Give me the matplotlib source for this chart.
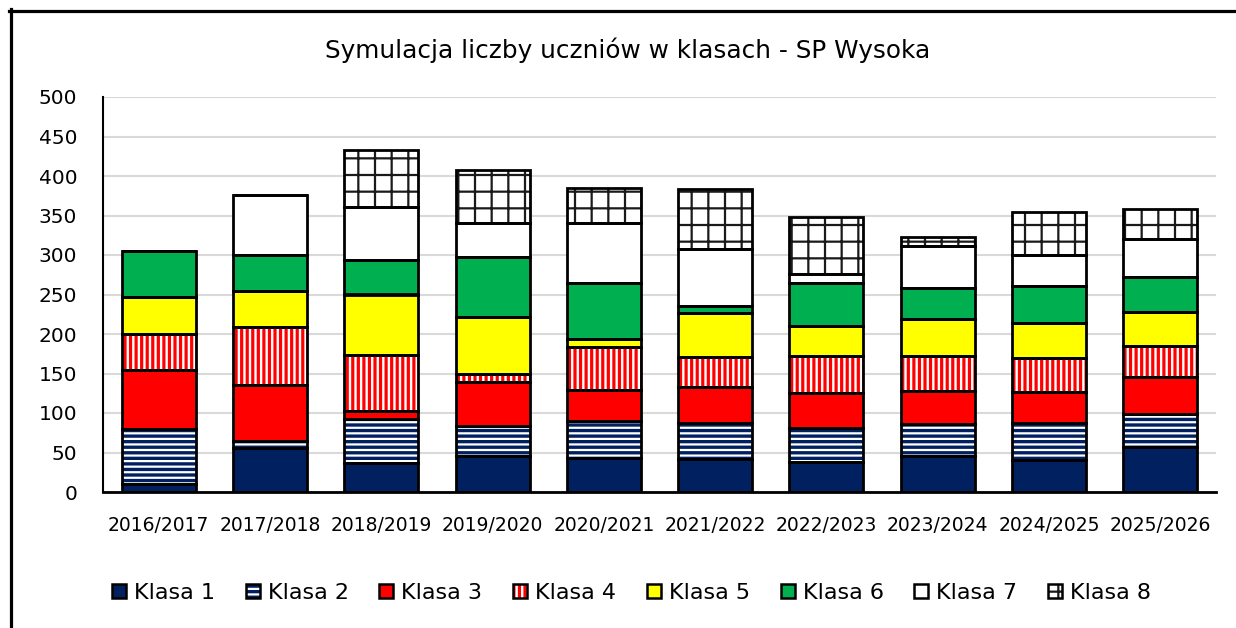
import matplotlib
matplotlib.use('Agg')
import matplotlib.pyplot as plt
import numpy as np
from matplotlib.lines import Line2D
from matplotlib.patches import Rectangle
from matplotlib.legend_handler import HandlerBase

# ---- data ----
years = ['2016/2017', '2017/2018', '2018/2019', '2019/2020', '2020/2021',
         '2021/2022', '2022/2023', '2023/2024', '2024/2025', '2025/2026']
klasa1 = [10, 56, 37, 46, 43, 42, 38, 46, 41, 57]
klasa2 = [70, 8, 55, 38, 47, 45, 43, 40, 46, 42]
klasa3 = [74, 72, 10, 55, 39, 46, 44, 42, 40, 47]
klasa4 = [46, 73, 72, 10, 55, 38, 47, 44, 43, 39]
klasa5 = [47, 45, 76, 72, 10, 55, 38, 47, 44, 43]
klasa6 = [58, 46, 44, 76, 71, 10, 55, 39, 47, 44]
klasa7 = [0, 76, 67, 44, 76, 72, 11, 54, 39, 48]
klasa8 = [0, 0, 72, 67, 44, 76, 72, 11, 55, 38]
series_labels = ['Klasa 1', 'Klasa 2', 'Klasa 3', 'Klasa 4',
                 'Klasa 5', 'Klasa 6', 'Klasa 7', 'Klasa 8']
title = 'Symulacja liczby uczniów w klasach - SP Wysoka'
yticks = list(range(0, 501, 50))

series = [klasa1, klasa2, klasa3, klasa4, klasa5, klasa6, klasa7, klasa8]

NAVY = '#002060'
RED = '#FF0000'
styles = [
    dict(face=NAVY, hcolor=NAVY, hatch=None, hlw=1.0),
    dict(face='white', hcolor=NAVY, hatch='---', hlw=2.4),
    dict(face=RED, hcolor=RED, hatch=None, hlw=1.0),
    dict(face='white', hcolor=RED, hatch='|||', hlw=2.3),
    dict(face='#FFFF00', hcolor='#FFFF00', hatch=None, hlw=1.0),
    dict(face='#00B050', hcolor='#00B050', hatch=None, hlw=1.0),
    dict(face='white', hcolor='white', hatch=None, hlw=1.0),
    dict(face='white', hcolor='#1a1a1a', hatch='+', hlw=1.6),
]

plt.rcParams['font.family'] = ['DejaVu Sans']
plt.rcParams['hatch.linewidth'] = 2.0

W, H = 1236, 628
fig = plt.figure(figsize=(W / 100, H / 100), dpi=100)
fig.patch.set_facecolor('white')

ax = fig.add_axes([103 / W, (H - 492) / H, (1216 - 103) / W, (492 - 97) / H])

x = np.arange(len(years))
bw = 0.665
bottom = np.zeros(len(years))


def set_hlw(p, lw):
    if hasattr(p, 'set_hatch_linewidth'):
        p.set_hatch_linewidth(lw)


for vals, st in zip(series, styles):
    vals = np.array(vals, dtype=float)
    with plt.rc_context({'hatch.linewidth': st['hlw']}):
        bars = ax.bar(x, vals, bw, bottom=bottom, color=st['face'],
                      edgecolor=st['hcolor'], hatch=st['hatch'],
                      linewidth=0, zorder=2)
    for p in bars:
        set_hlw(p, st['hlw'])
    ax.bar(x, vals, bw, bottom=bottom, fill=False, edgecolor='black',
           linewidth=2.0, zorder=3)
    bottom += vals

ax.set_xlim(-0.5, len(years) - 0.5)
ax.set_ylim(0, 500)
ax.set_yticks(yticks)
ax.set_xticks(x)
ax.set_xticklabels(years)
ax.yaxis.grid(True, color='#D9D9D9', linewidth=1.5)
ax.set_axisbelow(True)
ax.tick_params(axis='y', length=0, pad=18.5, labelsize=14.5)
ax.tick_params(axis='x', length=0, pad=17, labelsize=13.5)
for s in ['top', 'right']:
    ax.spines[s].set_visible(False)
ax.spines['left'].set_linewidth(1.5)
ax.spines['bottom'].set_linewidth(2.0)
ax.spines['left'].set_zorder(4)
ax.spines['bottom'].set_zorder(4)

fig.text(628 / W, 1 - 50 / H, title, ha='center', va='center', fontsize=17.8)


class TwoLayerHandler(HandlerBase):
    def __init__(self, st):
        super().__init__()
        self.st = st

    def create_artists(self, legend, orig_handle, xdescent, ydescent,
                       width, height, fontsize, trans):
        s = min(width, height)
        x0 = -xdescent + (width - s) / 2
        y0 = -ydescent + (height - s) / 2
        st = self.st
        with plt.rc_context({'hatch.linewidth': st['hlw']}):
            r1 = Rectangle((x0, y0), s, s, facecolor=st['face'],
                           edgecolor=st['hcolor'], hatch=st['hatch'],
                           linewidth=0, transform=trans)
        set_hlw(r1, st['hlw'])
        r2 = Rectangle((x0, y0), s, s, fill=False, edgecolor='black',
                       linewidth=1.8, transform=trans)
        return [r1, r2]


proxies = [Rectangle((0, 0), 1, 1) for _ in series_labels]
hmap = {p: TwoLayerHandler(st) for p, st in zip(proxies, styles)}
fs_leg = 16
leg = fig.legend(proxies, series_labels, handler_map=hmap, ncol=8,
                 loc='center', bbox_to_anchor=(631.5 / W, 1 - 593 / H),
                 frameon=False, fontsize=fs_leg,
                 handlelength=0.63, handleheight=0.63,
                 handletextpad=0.36, columnspacing=1.38,
                 borderpad=0, borderaxespad=0)

# outer chart border (top & left visible in the crop)
fig.add_artist(Line2D([9 / W, 1.0], [1 - 10.5 / H, 1 - 10.5 / H],
                      transform=fig.transFigure, color='black', linewidth=2.3))
fig.add_artist(Line2D([10.5 / W, 10.5 / W], [0, 1 - 9 / H],
                      transform=fig.transFigure, color='black', linewidth=2.3))

fig.savefig('out.png', dpi=100)
